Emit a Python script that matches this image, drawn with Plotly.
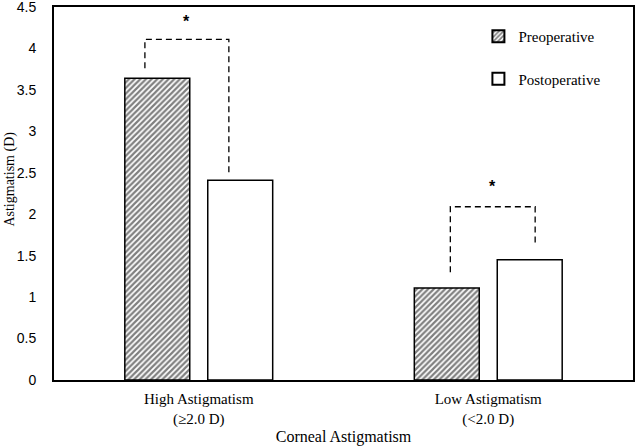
import plotly.graph_objects as go

categories = ["High Astigmatism<br>(≥2.0 D)", "Low Astigmatism<br>(<2.0 D)"]
pre_values = [3.64, 1.11]
post_values = [2.41, 1.45]
series_names = ["Preoperative", "Postoperative"]
y_ticks = [0, 0.5, 1, 1.5, 2, 2.5, 3, 3.5, 4, 4.5]

# significance brackets: (x_left, y_left_bottom, x_right, y_right_bottom, y_top, star_y)
brackets = [
    (-0.186, 3.76, 0.104, 2.50, 4.11, 4.33),
    (-0.131, 1.30, 0.162, 1.62, 2.09, 2.33),
]

xs = list(range(len(categories)))
serif = "Liberation Serif, Times New Roman, serif"
sans = "Liberation Sans, Arial, sans-serif"

fig = go.Figure()
fig.add_trace(go.Bar(
    x=xs, y=pre_values, name=series_names[0], legendgroup="a",
    marker=dict(color="white", line=dict(color="black", width=1.5),
                pattern=dict(shape="/", fgcolor="black", bgcolor="white", size=4, solidity=0.55)),
))
fig.add_trace(go.Bar(
    x=xs, y=post_values, name=series_names[1], legendgroup="b",
    marker=dict(color="white", line=dict(color="black", width=1.5)),
))

for i, (xl, yl, xr, yr, yt, ys) in enumerate(brackets):
    fig.add_trace(go.Scatter(
        x=[i + xl, i + xl, i + xr, i + xr], y=[yl, yt, yt, yr],
        mode="lines", line=dict(color="black", width=1.3, dash="6px,4px"),
        showlegend=False, hoverinfo="skip",
    ))
    fig.add_annotation(x=i + (xl + xr) / 2, y=ys, text="<b>*</b>", showarrow=False,
                       font=dict(family=sans, size=16, color="black"))

fig.add_annotation(xref="paper", yref="paper", x=-0.076, y=0.54, text="Astigmatism (D)",
                   textangle=-90, showarrow=False, xanchor="center", yanchor="middle",
                   font=dict(family=serif, size=14, color="black"))

fig.update_layout(
    width=638, height=447,
    margin=dict(l=54, r=5, t=7, b=67),
    paper_bgcolor="white", plot_bgcolor="white",
    barmode="group", bargap=0.427, bargroupgap=0.217,
    showlegend=True,
    legend=dict(x=0.733, y=0.965, xanchor="left", yanchor="top",
                font=dict(family=serif, size=15, color="black"),
                tracegroupgap=20, itemsizing="constant", bgcolor="rgba(0,0,0,0)"),
    xaxis=dict(range=[-0.5, 1.5], tickvals=xs, ticktext=categories, automargin=False,
               tickfont=dict(family=serif, size=15, color="black"),
               title=dict(text="Corneal Astigmatism", font=dict(family=serif, size=16, color="black"), standoff=4),
               showline=True, linecolor="black", linewidth=2, mirror=True,
               showgrid=False, zeroline=False, ticks="", ticklabelstandoff=4),
    yaxis=dict(range=[0, 4.5], tickvals=y_ticks, ticktext=[f"{v:g}" for v in y_ticks], automargin=False,
               tickfont=dict(family=sans, size=14, color="black"), ticklabeloverflow="allow",
               showline=True, linecolor="black", linewidth=2, mirror=True,
               showgrid=False, zeroline=False, ticks="", ticklabelstandoff=13),
)

fig.write_html("out.html")
